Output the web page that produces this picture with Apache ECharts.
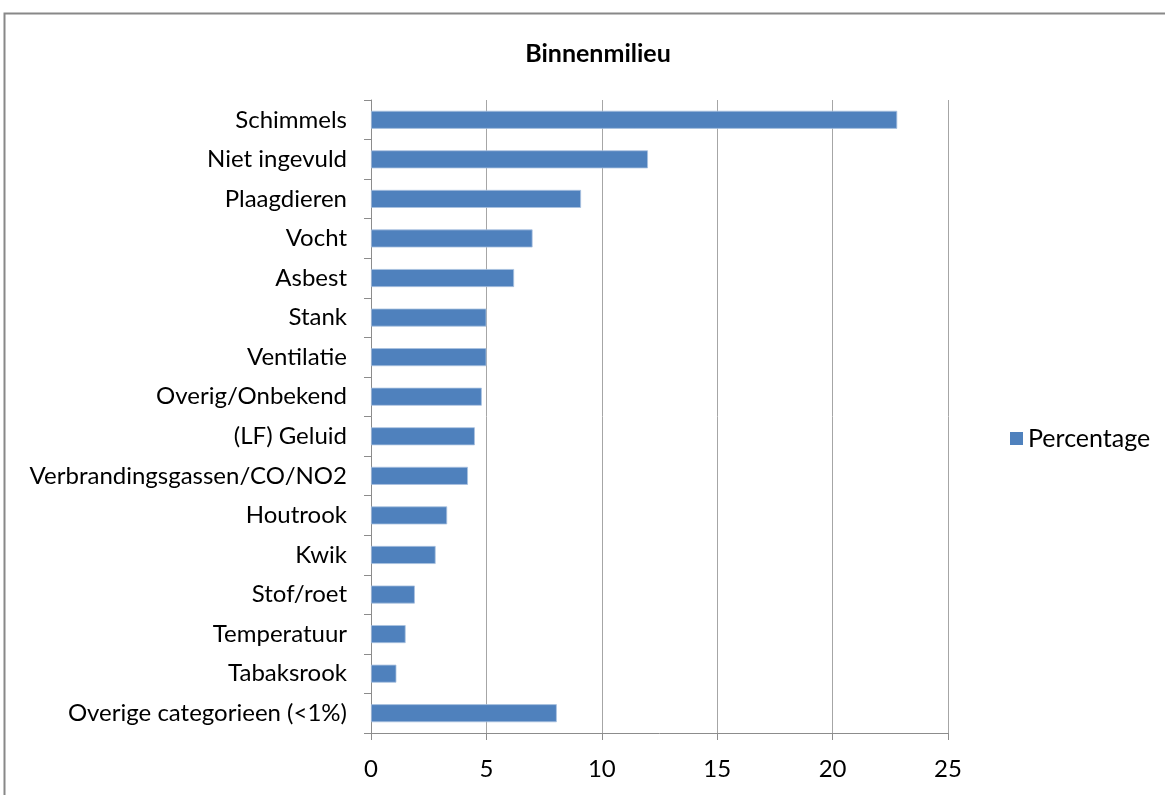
<!DOCTYPE html>
<html>
<head>
<meta charset="utf-8">
<script src="https://cdn.jsdelivr.net/npm/echarts@6/dist/echarts.min.js"></script>
<style>
html,body{margin:0;padding:0;background:#fff;}
#chart{width:1165px;height:795px;}
</style>
</head>
<body>
<div id="chart"></div>
<script>
const categories = ["Schimmels","Niet ingevuld","Plaagdieren","Vocht","Asbest","Stank","Ventilatie","Overig/Onbekend","(LF) Geluid","Verbrandingsgassen/CO/NO2","Houtrook","Kwik","Stof/roet","Temperatuur","Tabaksrook","Overige categorieen (<1%)"];
const percentage = [22.8, 12.0, 9.1, 7.0, 6.2, 5.0, 5.0, 4.8, 4.5, 4.2, 3.3, 2.8, 1.9, 1.5, 1.1, 8.05];
const xTicks = {min: 0, max: 25, interval: 5};
const seriesName = "Percentage";
const titleText = "Binnenmilieu";

const FONT = "Lato, 'Open Sans', sans-serif";
const chart = echarts.init(document.getElementById('chart'), null, {renderer: 'canvas'});
chart.setOption({
  backgroundColor: '#fff',
  animation: false,
  graphic: [{
    type: 'rect', shape: {x: 4.5, y: 13.5, width: 1200, height: 900},
    style: {fill: 'none', stroke: '#888', lineWidth: 2}, z: 100
  }],
  title: {
    text: titleText, left: 593, top: 36, textAlign: 'center',
    textStyle: {fontFamily: FONT, fontSize: 25, fontWeight: 'bold', color: '#000'}
  },
  legend: {
    data: [seriesName], left: 1005, top: 421, icon: 'rect', itemWidth: 13, itemHeight: 13, itemGap: 9,
    itemStyle: {borderWidth: 0},
    textStyle: {fontFamily: FONT, fontSize: 25, color: '#000'}
  },
  grid: {left: 371, right: 217, top: 100, bottom: 62, containLabel: false},
  xAxis: {
    type: 'value', min: xTicks.min, max: xTicks.max, interval: xTicks.interval,
    axisLine: {show: true, lineStyle: {color: '#8c8c8c', width: 1}},
    axisTick: {show: true, length: 7, lineStyle: {color: '#8c8c8c'}},
    splitLine: {show: true, lineStyle: {color: '#a6a6a6', width: 1}},
    axisLabel: {fontFamily: FONT, fontSize: 24, color: '#000', margin: 24}
  },
  yAxis: {
    type: 'category', data: categories, inverse: true,
    axisLine: {show: true, lineStyle: {color: '#8c8c8c', width: 1}},
    axisTick: {show: true, length: 7, alignWithLabel: false, lineStyle: {color: '#8c8c8c'}},
    axisLabel: {fontFamily: FONT, fontSize: 24, color: '#000', margin: 24}
  },
  series: [{
    name: seriesName, type: 'bar', data: percentage, barWidth: 18,
    itemStyle: {color: '#4f81bd', borderColor: '#a9c1e0', borderWidth: 0.8}
  }]
});
</script>
</body>
</html>
